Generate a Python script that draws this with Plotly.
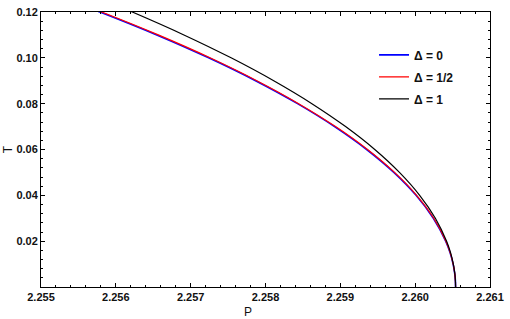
import plotly.graph_objects as go

T = [0.0, 0.0025, 0.005, 0.0075, 0.01, 0.015, 0.02, 0.03, 0.04, 0.05, 0.06, 0.07, 0.08,
     0.09, 0.10, 0.11, 0.12, 0.125]
P_d0 = [2.26054, 2.260538, 2.260532, 2.260521, 2.260507, 2.260466, 2.260408, 2.260243,
        2.260012, 2.259715, 2.259352, 2.258923, 2.258428, 2.257867, 2.257240, 2.256547,
        2.255788, 2.255384]
P_d12 = [2.26054, 2.260538, 2.260532, 2.260522, 2.260508, 2.260468, 2.260411, 2.260248,
         2.260019, 2.259724, 2.259363, 2.258936, 2.258443, 2.257884, 2.257259, 2.256567,
         2.255810, 2.255407]
P_d1 = [2.26054, 2.260538, 2.260533, 2.260523, 2.260510, 2.260473, 2.260420, 2.260270,
        2.260060, 2.259790, 2.259460, 2.259070, 2.258620, 2.258110, 2.257540, 2.256910,
        2.256220, 2.255853]

names = ["Δ = 0", "Δ = 1/2", "Δ = 1"]
colors = ["#0000ff", "#ff0000", "#000000"]
widths = [1.6, 1.2, 1.2]

x_ticks = [2.255, 2.256, 2.257, 2.258, 2.259, 2.260, 2.261]
x_labels = ["2.255", "2.256", "2.257", "2.258", "2.259", "2.260", "2.261"]
y_ticks = [0.02, 0.04, 0.06, 0.08, 0.10, 0.12]
y_labels = ["0.02", "0.04", "0.06", "0.08", "0.10", "0.12"]

fig = go.Figure()
for i, (P, nm, c, w) in enumerate(zip([P_d0, P_d12, P_d1], names, colors, widths)):
    fig.add_trace(go.Scatter(x=P, y=T, mode="lines", name=nm, legendgroup=f"g{i}",
                             line=dict(color=c, width=w, shape="spline", smoothing=0.6)))

fam = "Liberation Sans, Arial, sans-serif"
font = dict(family=fam, size=11, color="#111111", weight="bold")

axis_common = dict(showgrid=False, zeroline=False, showline=True, linecolor="black",
                   linewidth=1, mirror="allticks", ticks="inside", ticklen=4,
                   tickcolor="black", tickfont=font)

fig.update_xaxes(range=[2.255, 2.261], tickvals=x_ticks, ticktext=x_labels,
                 minor=dict(ticks="inside", ticklen=2, tickcolor="black", dtick=0.0002, tick0=2.255),
                 **axis_common)
fig.update_yaxes(range=[0.0, 0.12], tickvals=y_ticks, ticktext=y_labels,
                 minor=dict(ticks="inside", ticklen=2, tickcolor="black", dtick=0.004, tick0=0.0),
                 **axis_common)

fig.add_annotation(text="P", xref="paper", yref="paper", x=(250 - 41) / 453, y=-(313 - 287) / 281,
                   showarrow=False, font=dict(family=fam, size=12, color="#111111"),
                   xanchor="center", yanchor="middle")
fig.add_annotation(text="T", xref="paper", yref="paper", x=-(41 - 8) / 453, y=(287 - 146) / 281,
                   showarrow=False, textangle=-90, font=dict(family=fam, size=12, color="#111111"),
                   xanchor="center", yanchor="middle")

fig.update_layout(
    width=510, height=319,
    margin=dict(l=41, r=16, t=6, b=32),
    plot_bgcolor="white", paper_bgcolor="white",
    showlegend=True,
    legend=dict(x=(377 - 41) / 453, y=1 - (35 - 6) / 281, xanchor="left", yanchor="top",
                bgcolor="rgba(0,0,0,0)",
                font=dict(family=fam, size=12, color="#111111", weight="bold"),
                itemwidth=30, tracegroupgap=3),
)

fig.write_html("out.html", config={"displayModeBar": False},
               post_script="document.body.style.margin='0';document.body.style.overflow='hidden';")
